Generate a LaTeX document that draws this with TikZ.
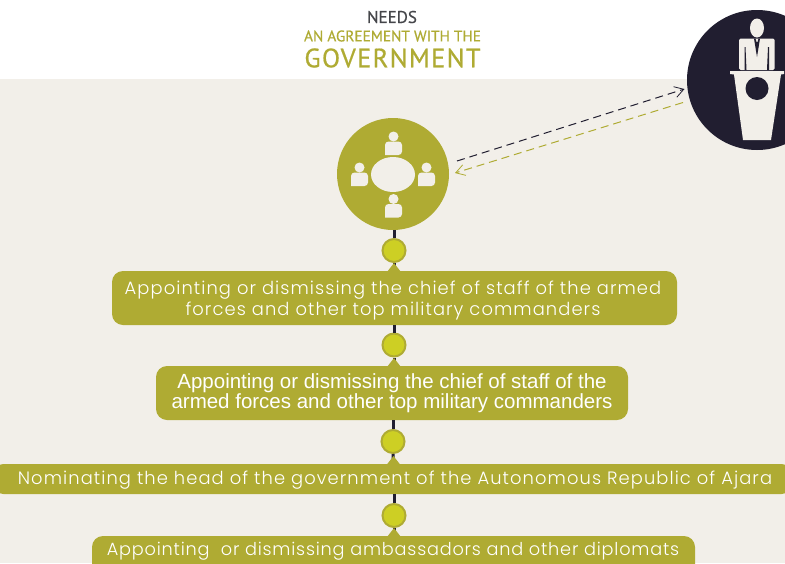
\documentclass[tikz,border=0pt]{standalone}
\usepackage{fontspec}
\setmainfont{Poppins}[UprightFont=* Light]
\newfontfamily\arialf{Liberation Sans}
\newfontfamily\dinf{PT Sans}[FakeBold=0.6]
\newfontfamily\dinwide{PT Sans}[FakeBold=0.6,LetterSpace=5]
\newfontfamily\popA{Poppins Light}[LetterSpace=6]
\newfontfamily\popC{Poppins Light}[LetterSpace=4.5]
\definecolor{bgc}{HTML}{F2EFE9}
\definecolor{olive}{HTML}{AFAB33}
\definecolor{lime}{HTML}{CDCF24}
\definecolor{ink}{HTML}{211E30}
\definecolor{headg}{HTML}{45464A}
\tikzset{
 x=1pt,y=-1pt,
 barbox/.style={fill=olive,rounded corners=11pt,inner sep=0pt,anchor=center},
 knob/.style={circle,fill=lime,draw=olive,line width=2pt,minimum size=23pt,inner sep=0pt},
 bigdisc/.style={circle,inner sep=0pt},
 stem/.style={draw=ink,line width=3pt},
 peak/.style={fill=olive},
 dashlink/.style={line width=1pt,dash pattern=on 8pt off 5pt,-{Straight Barb[length=9pt,width=11pt,line width=.8pt]}},
 iconfill/.style={fill=bgc},
 headtxt/.style={inner sep=0pt,anchor=center},
 bartxt/.style={text=white,align=center,inner sep=0pt}
}
\usetikzlibrary{arrows.meta}
\newcommand{\seatedperson}[2]{%
 \fill[iconfill] (#1,#2-11.5) circle (5);
 \fill[iconfill,rounded corners=3.5pt] (#1-8.5,#2+7) -- (#1-8.5,#2-6.5) -- (#1+8.5,#2-6.5) -- (#1+8.5,#2+7) [sharp corners] -- cycle;
}
\begin{document}
\begin{tikzpicture}
\useasboundingbox (0,0) rectangle (785,563);
\clip (0,0) rectangle (785,563);
\fill[white] (0,0) rectangle (785,79);
\fill[bgc] (0,79) rectangle (785,563);

\node[headtxt,text=headg,font=\dinf\fontsize{17}{18}\selectfont] (needs) at (392,17) {NEEDS};
\node[headtxt,text=olive,font=\dinf\fontsize{15.3}{17}\selectfont] (agree) at (392.5,36) {AN AGREEMENT WITH THE};
\node[headtxt,text=olive,font=\dinwide\fontsize{26.5}{28}\selectfont] (gov) at (392.5,58) {GOVERNMENT};

% nodes
\node[bigdisc,fill=olive,minimum size=112pt] (council) at (393,174) {};
\node[bigdisc,fill=ink,minimum size=140pt] (president) at (757,80) {};

\node[barbox,minimum width=565pt,minimum height=54pt] (b1) at (394.5,298) {};
\node[barbox,minimum width=472pt,minimum height=54pt] (b2) at (392,393) {};
\node[barbox,minimum width=800pt,minimum height=30pt] (b3) at (392.5,479) {};
\node[barbox,minimum width=603pt,minimum height=54pt] (b4) at (393.5,563) {};

\node[knob] (k1) at (394,250.5) {};
\coordinate (p1) at (394,271);
\coordinate (p2) at (394,366);
\coordinate (p3) at (393.5,464);
\coordinate (p4) at (394,536);

\node[knob] (k2) at (394,345) {};
\node[knob] (k3) at (393,441.5) {};
\node[knob] (k4) at (394,515.5) {};

\draw[stem] (council.south -| k1) -- (k1.north);
\draw[stem] (b1.south -| k2) -- (k2.north);
\draw[stem] (k2.south) -- (p2);
\draw[stem] (b2.south -| k3) -- (k3.north);
\draw[stem] (k3.south) -- (p3);
\draw[stem] (b3.south -| k4) -- (k4.north);
\draw[stem] (k4.south) -- (p4);
\draw[stem] (k1.south) -- (p1);

\foreach \c in {p1,p2,p3,p4}{\fill[peak] (\c) ++(-7,1) -- ++(7,-9) -- ++(7,9) -- cycle;}

% box text
\node[bartxt,font=\popA\fontsize{17.9}{21}\selectfont] (t1) at (393,300.5) {Appointing or dismissing the chief of staff of the armed\\forces and other top military commanders};
\node[bartxt,font=\arialf\fontsize{20.5}{20}\selectfont] (t2) at (392,393) {Appointing or dismissing the chief of staff of the\\armed forces and other top military commanders};
\node[bartxt,font=\popA\fontsize{17.9}{21}\selectfont] (t3) at (395,480) {Nominating the head of the government of the Autonomous Republic of Ajara};
\node[bartxt,font=\popC\fontsize{17.7}{21}\selectfont] (t4) at (393,551) {Appointing\ \ or dismissing ambassadors and other diplomats};

% council icon
\fill[iconfill] (393,174.5) ellipse [x radius=22,y radius=17.5];
\seatedperson{393.5}{148}
\seatedperson{359.5}{179}
\seatedperson{426.5}{179}
\seatedperson{393.5}{210.5}

% president icon
\fill[iconfill] (757,28) ellipse [x radius=7,y radius=9.5];
\fill[iconfill,rounded corners=1.5pt] (739,70) -- (739,38.5) -- (774.5,38.5) -- (774.5,70) -- cycle;
\fill[ink] (744.5,70) -- (744.5,47) -- (745.5,47) -- (746.5,70) -- cycle;
\fill[ink] (769,70) -- (769,47) -- (768,47) -- (767,70) -- cycle;
\fill[ink] (754,38.5) -- (757,57) -- (760,38.5) -- (758.5,38.5) -- (757.5,42) -- (756.5,42) -- (755.5,38.5) -- cycle;
\fill[iconfill] (730,71) -- (784,71) -- (784,74) -- (781,74.5) -- (771,140) -- (743,140) -- (734,74.5) -- (730,74) -- cycle;
\fill[ink] (757,88.5) circle (11.5);

% exchange arrows
\coordinate (a1) at (457,161);
\coordinate (a2) at (684.5,89);
\coordinate (a3) at (683,102.5);
\coordinate (a4) at (455,173);
\draw[dashlink,draw=ink] (a1) -- (a2);
\draw[dashlink,draw=olive] (a3) -- (a4);
\end{tikzpicture}
\end{document}
